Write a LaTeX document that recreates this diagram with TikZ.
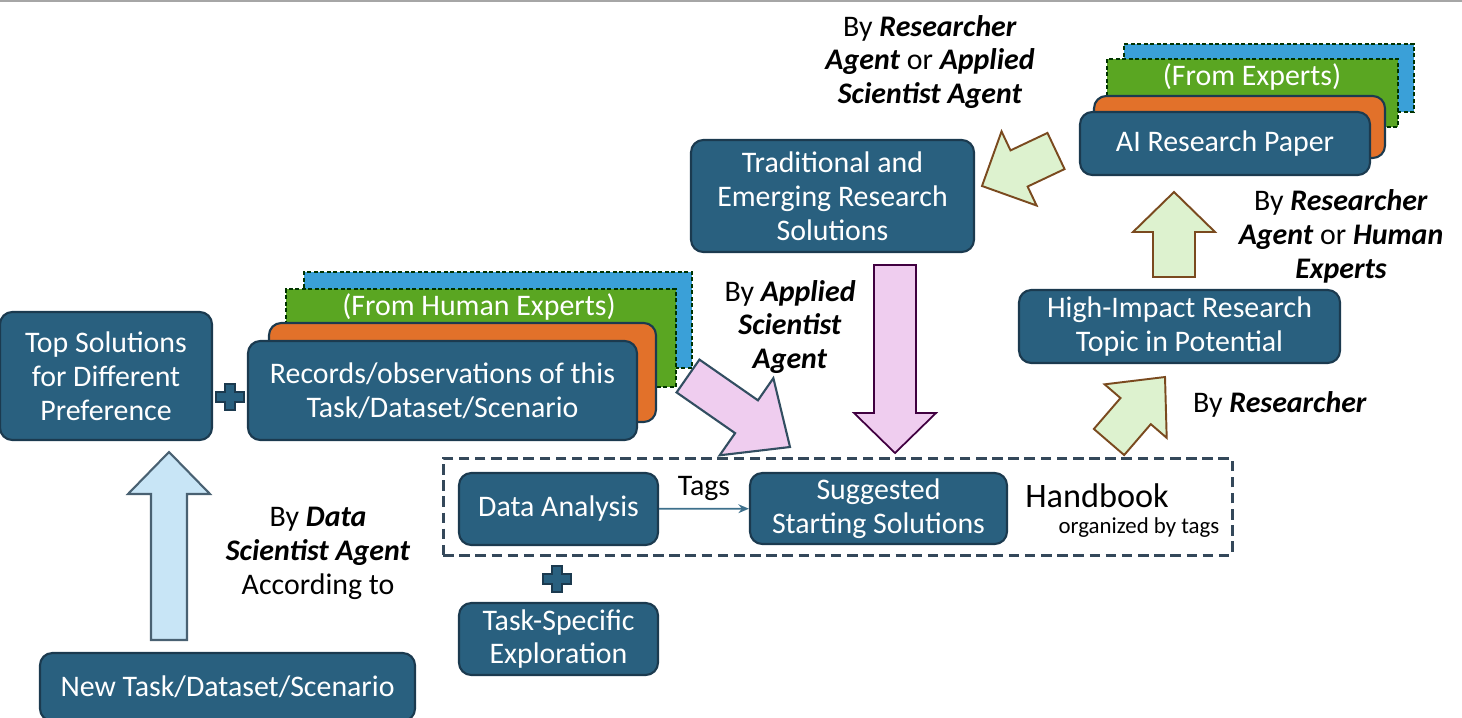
\documentclass[tikz,border=0pt]{standalone}
\usepackage{fontspec}
\setmainfont{Carlito}
\usetikzlibrary{calc,arrows.meta}
\definecolor{boxblue}{HTML}{29607F}
\definecolor{boxline}{HTML}{1B3A4F}
\definecolor{layorange}{HTML}{E2712A}
\definecolor{laygreen}{HTML}{5AA622}
\definecolor{layblue}{HTML}{3AA0D8}
\definecolor{arrblue}{HTML}{C8E5F6}
\definecolor{arrpink}{HTML}{EFCDEF}
\definecolor{arrgreen}{HTML}{DDF2CF}
\definecolor{arrbrown}{HTML}{7A4A1F}
\definecolor{hbline}{HTML}{34485A}
\newcommand\bfit[1]{\textbf{\textit{#1}}}
\newcommand\blockarrow[6]{%
	\coordinate (ba-base) at ($(#3)!#6!(#2)$);
	\draw[#1] ($(#2)!#4!90:(#3)$) -- ($(ba-base)!#4!90:(#3)$) -- ($(ba-base)!#5!90:(#3)$) -- (#3)
		-- ($(ba-base)!#5!-90:(#3)$) -- ($(ba-base)!#4!-90:(#3)$) -- ($(#2)!#4!-90:(#3)$) -- cycle;
}

\begin{document}
\begin{tikzpicture}[
				x=0.02cm, y=-0.02cm,
				every node/.style={align=center, inner sep=0pt, font=\fontsize{17}{19.3}\selectfont},
				box/.style={draw=boxline, fill=boxblue, line width=1.2pt, rounded corners=7pt, text=white},
				layer/.style={draw=boxline, line width=1.2pt, rounded corners=7pt},
				dashlayer/.style={draw=black!80!green, line width=0.9pt, dash pattern=on 2.5pt off 1.2pt},
				wtext/.style={text=white},
				lbl/.style={text=black},
				plussign/.pic={\draw[boxline, fill=boxblue, line width=1pt] (-5,-13) -- (5,-13) -- (5,-5) -- (14,-5) -- (14,5) -- (5,5) -- (5,13) -- (-5,13) -- (-5,5) -- (-14,5) -- (-14,-5) -- (-5,-5) -- cycle;},
				]
				
				\useasboundingbox (0,0) rectangle (1462,717);
				\draw[gray!70, line width=1.2pt] (0,1) -- (1462,1);
				
				\node[box, minimum width=212*0.02cm, minimum height=128*0.02cm] (topsol) at (106,376) {Top Solutions\\for Different\\Preference};
				\pic at (230,397) {plussign};
				
				\node[dashlayer, fill=layblue, minimum width=388*0.02cm, minimum height=96*0.02cm] (recblue) at (498,320) {};
				\node[dashlayer, fill=laygreen, minimum width=390*0.02cm, minimum height=98*0.02cm] (recgreen) at (481,338) {};
				\node[wtext] (fromhuman) at (479,307) {(From Human Experts)};
				\node[layer, fill=layorange, minimum width=387*0.02cm, minimum height=99*0.02cm] (recorange) at (462.5,372.5) {};
				\node[box, minimum width=389*0.02cm, minimum height=99*0.02cm] (records) at (442.5,390.5) {Records/observations of this\\Task/Dataset/Scenario};
				
				\node[box, minimum width=375*0.02cm, minimum height=68*0.02cm] (newtask) at (227.5,687) {New Task/Dataset/Scenario};
				
				\node[draw=hbline, line width=1.7pt, dash pattern=on 6pt off 3.2pt, minimum width=789*0.02cm, minimum height=97*0.02cm] (handbook) at (837.5,506.5) {};
				\node[box, minimum width=199*0.02cm, minimum height=72*0.02cm] (dataan) at (558.5,509) {Data Analysis};
				\node[box, minimum width=257*0.02cm, minimum height=71*0.02cm] (suggest) at (878.5,508.5) {Suggested\\Starting Solutions};
				\draw[boxblue!90, line width=1pt, -{Stealth[length=6pt, width=5pt]}] (dataan) -- node[lbl, above=4pt] (tags) {Tags} (suggest);
				\node[lbl, font=\fontsize{19.5}{22}\selectfont] (hbtitle) at (1097,496) {Handbook};
				\node[lbl, font=\fontsize{13}{15}\selectfont] (hbsub) at (1139,528) {organized by tags};
				\pic at (557,579) {plussign};
				\node[box, minimum width=199*0.02cm, minimum height=72*0.02cm] (taskspec) at (558.5,639) {Task-Specific\\Exploration};
				
				\node[box, minimum width=283*0.02cm, minimum height=112*0.02cm] (tradi) at (832.5,196) {Traditional and\\Emerging Research\\Solutions};
				\node[box, minimum width=321*0.02cm, minimum height=73*0.02cm] (highimp) at (1179.5,326.5) {High-Impact Research\\Topic in Potential};
				
				\node[dashlayer, fill=layblue, minimum width=290*0.02cm, minimum height=68*0.02cm] (aiblue) at (1269,78) {};
				\node[dashlayer, fill=laygreen, minimum width=291*0.02cm, minimum height=68*0.02cm] (aigreen) at (1252.5,93) {};
				\node[wtext] (fromexp) at (1252,77) {(From Experts)};
				\node[layer, fill=layorange, minimum width=291*0.02cm, minimum height=62*0.02cm] (aiorange) at (1239.5,127) {};
				\node[box, minimum width=290*0.02cm, minimum height=63*0.02cm] (aipaper) at (1225,143.5) {AI Research Paper};
				
				\node[lbl] (byds) at (318,553) {By \bfit{Data}\\\bfit{Scientist Agent}\\According to};
				\node[lbl] (byas) at (790,327) {By \bfit{Applied}\\\bfit{Scientist}\\\bfit{Agent}};
				\node[lbl] (byra) at (930,62) {By \bfit{Researcher}\\\bfit{Agent} or \bfit{Applied}\\\bfit{Scientist Agent}};
				\node[lbl] (byrh) at (1341,236) {By \bfit{Researcher}\\\bfit{Agent} or \bfit{Human}\\\bfit{Experts}};
				\node[lbl] (byr) at (1280,404) {By \bfit{Researcher}};
				
				\coordinate (up1) at (169,640);
				\coordinate (up2) at (169,452);
				\coordinate (pk1) at (688,376);
				\coordinate (pk2) at (790,447);
				\coordinate (pd1) at (895,265);
				\coordinate (pd2) at (895,453);
				\coordinate (gd1) at (1109,442);
				\coordinate (gd2) at (1165,377);
				\coordinate (gu1) at (1174,277);
				\coordinate (gu2) at (1174,192);
				\coordinate (gl1) at (1056,151);
				\coordinate (gl2) at (982,186);
				
				\blockarrow{draw=boxline!80, fill=arrblue, line width=1.2pt}{up1}{up2}{0.36cm}{0.82cm}{0.84cm}
				\blockarrow{draw=boxline!90, fill=arrpink, line width=1.2pt}{pk1}{pk2}{0.4cm}{0.94cm}{1.06cm}
				\blockarrow{draw=violet!50!black, fill=arrpink, line width=1pt}{pd1}{pd2}{0.42cm}{0.82cm}{0.8cm}
				\blockarrow{draw=arrbrown, fill=arrgreen, line width=1.1pt}{gd1}{gd2}{0.4cm}{0.82cm}{0.9cm}
				\blockarrow{draw=arrbrown, fill=arrgreen, line width=1.1pt}{gu1}{gu2}{0.42cm}{0.82cm}{0.8cm}
				\blockarrow{draw=arrbrown, fill=arrgreen, line width=1.1pt}{gl1}{gl2}{0.4cm}{0.82cm}{0.82cm}
				
			\end{tikzpicture}
\end{document}
